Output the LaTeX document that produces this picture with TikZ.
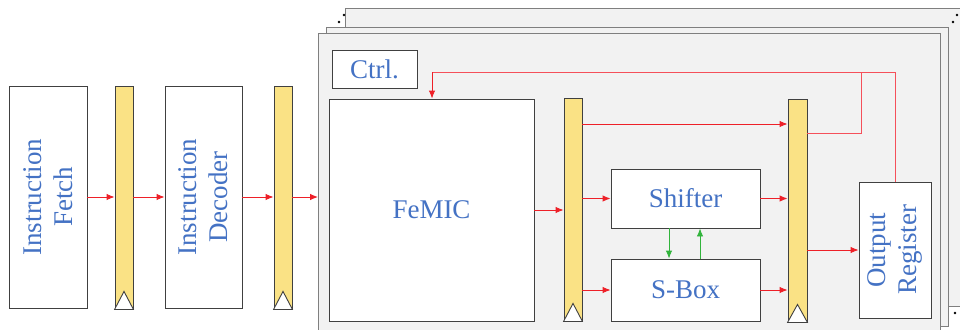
\documentclass[tikz,border=0pt]{standalone}
\usepackage{fontspec}
\setmainfont{Liberation Serif}
\usetikzlibrary{arrows.meta}
\definecolor{txtblue}{HTML}{4472C4}
\definecolor{panelfill}{HTML}{F2F2F2}
\definecolor{panelline}{HTML}{7F7F7F}
\definecolor{boxline}{HTML}{404040}
\definecolor{regfill}{HTML}{FAE285}
\definecolor{arrred}{RGB}{238,32,40}
\definecolor{fbred}{RGB}{245,80,90}
\definecolor{arrgreen}{RGB}{50,180,60}
\tikzset{
  panel/.style={draw=panelline, line width=1.4pt, fill=panelfill, anchor=north west, inner sep=0pt},
  blk/.style={draw=boxline, line width=0.9pt, fill=white, inner sep=0pt, text=txtblue,
    font=\fontsize{27}{31}\selectfont, align=center},
  vtxt/.style={text=txtblue, font=\fontsize{27}{31}\selectfont, align=center, rotate=90},
  reg/.style={draw=boxline, line width=0.9pt, fill=regfill, inner sep=0pt,
    minimum width=18pt, minimum height=223pt},
  arr/.style={draw=arrred, line width=0.9pt, -{Latex[length=8pt,width=6.5pt]}},
  fb/.style={draw=fbred, line width=0.9pt},
  garr/.style={draw=arrgreen, line width=0.9pt, -{Latex[length=8pt,width=6.5pt]}},
  clk/.style={draw=boxline, line width=0.9pt, fill=white},
}
\newcommand{\clocktri}[1]{\draw[clk] (#1.south west) -- ([yshift=18pt]#1.south) -- (#1.south east) -- cycle;}
\begin{document}
\begin{tikzpicture}[x=1pt,y=-1pt]
\useasboundingbox (0,0) rectangle (960,329);
\begin{scope}
\clip (0,0) rectangle (960,329);
% stacked panels
\node[panel, minimum width=640pt, minimum height=298pt] (back) at (345,8) {};
\node[panel, minimum width=622pt, minimum height=299pt] (middle) at (326,27) {};
\node[panel, minimum width=622pt, minimum height=320pt] (front) at (318,33) {};
\end{scope}
% dots
\foreach \p in {(344,15),(339,22),(957,15),(953,22),(955,313)}
  \fill[black] \p circle (1.3pt);

% left pipeline
\node[blk, minimum width=78pt, minimum height=222pt] (IF) at (48,197) {};
\node[vtxt] (IFt) at (IF.center) {Instruction\\Fetch};
\node[reg] (r1) at (124,197.5) {};
\clocktri{r1}
\node[blk, minimum width=77pt, minimum height=222pt] (ID) at (203.5,197) {};
\node[vtxt] (IDt) at (ID.center) {Instruction\\Decoder};
\node[reg] (r2) at (283,197.5) {};
\clocktri{r2}

% inside front panel
\node[blk, minimum width=85pt, minimum height=38pt] (ctrl) at (374.5,69) {Ctrl.};
\node[blk, minimum width=205pt, minimum height=222pt] (femic) at (431.5,210) {FeMIC};
\node[reg] (r3) at (573,209.5) {};
\clocktri{r3}
\node[blk, minimum width=149pt, minimum height=59pt] (shift) at (685.5,198.5) {Shifter};
\node[blk, minimum width=149pt, minimum height=62pt] (sbox) at (685.5,290) {S-Box};
\node[reg, minimum width=19pt] (r4) at (797.5,210.5) {};
\clocktri{r4}
\node[blk, minimum width=72pt, minimum height=136pt] (outr) at (895,250) {};
\node[vtxt] (outt) at (outr.center) {Output\\Register};

% arrows
\coordinate (y197) at (0,197);
\draw[arr] (IF.east |- y197) -- (r1.west |- y197);
\draw[arr] (r1.east |- y197) -- (ID.west |- y197);
\draw[arr] (ID.east |- y197) -- (r2.west |- y197);
\draw[arr] (r2.east |- y197) -- (front.west |- y197);
\draw[arr] (femic.east) -- (femic.east -| r3.west);
\coordinate (y124) at (0,124);
\draw[arr] (r3.east |- y124) -- (r4.west |- y124);
\draw[arr] (shift.west -| r3.east) -- (shift.west);
\draw[arr] (sbox.west -| r3.east) -- (sbox.west);
\draw[arr] (shift.east) -- (shift.east -| r4.west);
\draw[arr] (sbox.east) -- (sbox.east -| r4.west);
\draw[arr] (outr.west -| r4.east) -- (outr.west);
% green
\coordinate (gx1) at (669,0);
\coordinate (gx2) at (700,0);
\draw[garr] (shift.south -| gx1) -- (sbox.north -| gx1);
\draw[garr] (sbox.north -| gx2) -- (shift.south -| gx2);
% feedback
\coordinate (fbA) at (861,133);
\coordinate (fbTop) at (861,72);
\coordinate (fbR) at (895,72);
\coordinate (fbL) at (432,72);
\draw[fb] (r4.east |- fbA) -- (fbA) -- (fbTop);
\draw[fb] (outr.north -| fbR) -- (fbR) -- (fbL);
\draw[arr] (fbL) -- (femic.north -| fbL);
\end{tikzpicture}
\end{document}
